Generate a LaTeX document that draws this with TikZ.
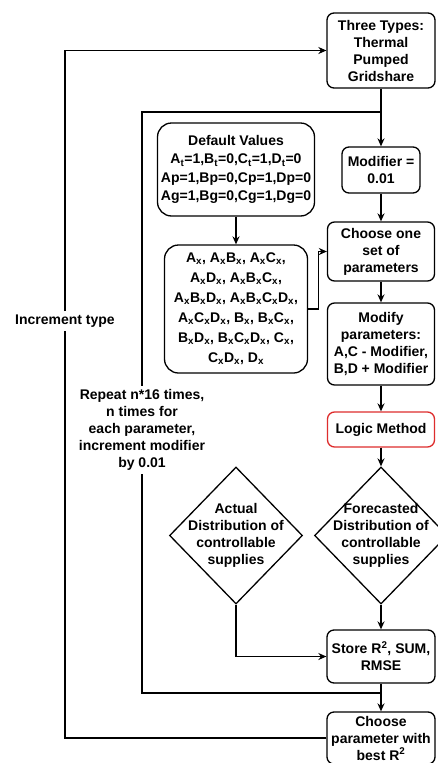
\documentclass[tikz,border=0pt]{standalone}
\usepackage{fontspec}
\setmainfont{Liberation Sans}
\usetikzlibrary{shapes.geometric,arrows.meta,positioning}
\definecolor{logicred}{RGB}{222,45,45}
\newcommand{\subx}[1]{#1\textsubscript{x}}

\begin{document}
\begin{tikzpicture}[x=1pt,y=-1pt,line width=1.3pt,
  font=\fontsize{14}{17}\selectfont\bfseries,
  box/.style={draw,rounded corners=7pt,align=center,inner sep=1pt},
  bigbox/.style={box,rounded corners=14pt},
  dia/.style={draw,diamond,minimum width=133pt,minimum height=137pt,inner sep=0pt},
  arr/.style={-{Stealth[length=8pt,width=7pt]}},
  tag/.style={fill=white,align=center,inner sep=3pt}]
\useasboundingbox[fill=white] (0,0) rectangle (437,763);
\node[box,minimum width=108pt,minimum height=75pt] (types) at (381,50.5) {Three Types:\\Thermal\\Pumped\\Gridshare};
\node[box,minimum width=78pt,minimum height=46pt] (modifier) at (381,170) {Modifier =\\0.01};
\node[bigbox,minimum width=157pt,minimum height=93pt,font=\fontsize{14}{18.5}\selectfont\bfseries] (defaults) at (236,169.5) {Default Values\\A\textsubscript{t}=1,B\textsubscript{t}=0,C\textsubscript{t}=1,D\textsubscript{t}=0\\Ap=1,Bp=0,Cp=1,Dp=0\\Ag=1,Bg=0,Cg=1,Dg=0};
\node[box,minimum width=107pt,minimum height=59pt] (choose) at (381,251.5) {Choose one\\set of\\parameters};
\node[bigbox,minimum width=143pt,minimum height=128pt,font=\fontsize{14}{20}\selectfont\bfseries] (combos) at (236,309) {\subx{A}, \subx{A}\subx{B}, \subx{A}\subx{C},\\\subx{A}\subx{D}, \subx{A}\subx{B}\subx{C},\\\subx{A}\subx{B}\subx{D}, \subx{A}\subx{B}\subx{C}\subx{D},\\\subx{A}\subx{C}\subx{D}, \subx{B}, \subx{B}\subx{C},\\\subx{B}\subx{D}, \subx{B}\subx{C}\subx{D}, \subx{C},\\\subx{C}\subx{D}, \subx{D}};
\node[box,minimum width=107pt,minimum height=82pt] (modify) at (381,344) {Modify\\parameters:\\A,C - Modifier,\\B,D + Modifier};
\node[box,draw=logicred,minimum width=107pt,minimum height=35pt] (logic) at (381,429.5) {Logic Method};
\node[dia,label={[align=center]center:Forecasted\\Distribution of\\controllable\\supplies}] (forecast) at (381,535.5) {};
\node[dia,label={[align=center]center:Actual\\Distribution of\\controllable\\supplies}] (actual) at (236,535.5) {};
\node[box,minimum width=108pt,minimum height=53pt] (store) at (381,656.5) {Store R\textsuperscript{2}, SUM,\\RMSE};
\node[box,minimum width=108pt,minimum height=52pt] (best) at (381,738) {Choose\\parameter with\\best R\textsuperscript{2}};
\node[tag] (inctype) at (65,321) {Increment type};
\node[tag] (repeat) at (142,430) {Repeat n*16 times,\\n times for\\each parameter,\\increment modifier\\by 0.01};
\coordinate (top) at (381,112);
\coordinate (bottom) at (381,693);
\draw[arr] (types) -- (modifier);
\draw[arr] (modifier) -- (choose);
\draw[arr] (defaults) -- (combos);
\draw[arr] (combos.east) -- ++(10,0) |- (choose.west);
\draw[arr] (choose) -- (modify);
\draw[arr] (modify) -- (logic);
\draw[arr] (logic) -- (forecast);
\draw[arr] (forecast) -- (store);
\draw[arr] (actual) |- (store);
\draw[arr] (store) -- (best);
\draw (bottom) -| (repeat.south);
\draw (repeat.north) |- (top);
\draw (best.west) -| (inctype.south);
\draw[arr] (inctype.north) |- (types.west);
\end{tikzpicture}
\end{document}
